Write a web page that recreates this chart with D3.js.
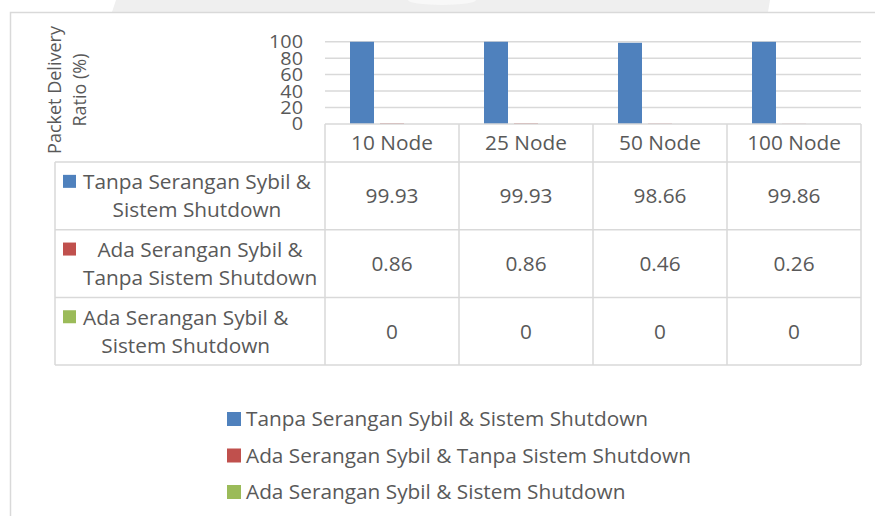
<!DOCTYPE html>
<html>
<head>
<meta charset="utf-8">
<script src="https://cdn.jsdelivr.net/npm/d3@7"></script>
<style>
  html, body { margin: 0; padding: 0; background: #fff; }
  svg { display: block; }
  text { font-family: "Open Sans", sans-serif; fill: #595959; }
</style>
</head>
<body>
<svg id="chart" width="875" height="516"></svg>
<script>
const categories = ["10 Node", "25 Node", "50 Node", "100 Node"];
const seriesNames = [
  "Tanpa Serangan Sybil & Sistem Shutdown",
  "Ada Serangan Sybil & Tanpa Sistem Shutdown",
  "Ada Serangan Sybil & Sistem Shutdown"
];
const seriesLines = [
  ["Tanpa Serangan Sybil &", "Sistem Shutdown"],
  ["Ada Serangan Sybil &", "Tanpa Sistem Shutdown"],
  ["Ada Serangan Sybil &", "Sistem Shutdown"]
];
const tanpaSerangan = [99.93, 99.93, 98.66, 99.86];
const adaSeranganTanpaShutdown = [0.86, 0.86, 0.46, 0.26];
const adaSeranganShutdown = [0, 0, 0, 0];
const seriesValues = [tanpaSerangan, adaSeranganTanpaShutdown, adaSeranganShutdown];
const seriesColors = ["#4f81bd", "#c0504d", "#9bbb59"];
const yTicks = [0, 20, 40, 60, 80, 100];
const yTitleLines = ["Packet Delivery", "Ratio (%)"];

const svg = d3.select("#chart");
const gridColor = "#d9d9d9";

// faint watermark band at top
svg.append("path")
  .attr("d", "M116,0 L770,0 L768,12 L112,12 Z")
  .attr("fill", "#efefef");
svg.append("ellipse").attr("cx", 442).attr("cy", 0).attr("rx", 34).attr("ry", 5).attr("fill", "#f8f8f8");

// chart border
svg.append("path")
  .attr("d", "M10.5,516 L10.5,12.5 L875,12.5")
  .attr("fill", "none").attr("stroke", gridColor).attr("stroke-width", 1.5);

// scales
const plotLeft = 325, plotRight = 861;
const x0 = d3.scaleBand().domain(categories).range([plotLeft, plotRight]).padding(0);
const x1 = d3.scaleBand().domain(d3.range(seriesValues.length)).range([0, 84]).paddingInner(0.2).paddingOuter(0);
const y = d3.scaleLinear().domain([0, 100]).range([124, 41.7]);

// gridlines
svg.append("g").selectAll("line").data(yTicks.filter(d => d > 0)).join("line")
  .attr("x1", plotLeft).attr("x2", plotRight)
  .attr("y1", d => y(d)).attr("y2", d => y(d))
  .attr("stroke", gridColor).attr("stroke-width", 1.5);

// y axis labels
const yAxis = d3.axisLeft(y).tickValues(yTicks).tickSize(0).tickPadding(0);
const yg = svg.append("g").attr("transform", "translate(303,0)").call(yAxis);
yg.select(".domain").remove();
yg.selectAll(".tick").each(function(d){
  d3.select(this).attr("transform", `translate(0,${y(d)}) scale(1.1,1)`);
});
yg.selectAll("text").attr("font-size", 18).attr("font-family", "'Open Sans', sans-serif").attr("fill", "#595959")
  .attr("x", 0).attr("dy", "0.36em");

// bars
const groups = svg.append("g").selectAll("g").data(categories).join("g")
  .attr("transform", d => `translate(${x0(d) + x0.bandwidth()/2 - 42},0)`);
groups.selectAll("rect").data((c, ci) => seriesValues.map((s, si) => ({si, v: s[ci]}))).join("rect")
  .attr("x", d => x1(d.si)).attr("width", x1.bandwidth())
  .attr("y", d => y(d.v)).attr("height", d => y(0) - y(d.v))
  .attr("fill", d => seriesColors[d.si]);

// y title
const yt = svg.append("g");
yTitleLines.forEach((t, i) => {
  yt.append("text")
    .attr("transform", `translate(${55 + i*25},90) rotate(-90)`)
    .attr("text-anchor", "middle").attr("dy", "0.35em")
    .attr("font-size", 18).text(t);
});

// data table
const tableLeft = 55, headerTop = 124, headerBottom = 162;
const rowH = 67.7;
const rowTops = seriesValues.map((_, i) => headerBottom + i * rowH);
const tableBottom = headerBottom + seriesValues.length * rowH;
const tg = svg.append("g").attr("stroke", gridColor).attr("stroke-width", 1.5).attr("fill", "none");
tg.append("line").attr("x1", plotLeft).attr("x2", plotRight).attr("y1", headerTop).attr("y2", headerTop);
[headerBottom, ...rowTops.slice(1), tableBottom].forEach(yy => {
  tg.append("line").attr("x1", tableLeft).attr("x2", plotRight).attr("y1", yy).attr("y2", yy);
});
tg.append("line").attr("x1", tableLeft).attr("x2", tableLeft).attr("y1", headerBottom).attr("y2", tableBottom);
categories.forEach(c => {
  tg.append("line").attr("x1", x0(c)).attr("x2", x0(c)).attr("y1", headerTop).attr("y2", tableBottom);
});
tg.append("line").attr("x1", plotRight).attr("x2", plotRight).attr("y1", headerTop).attr("y2", tableBottom);

const fs = 20.8;
svg.append("g").selectAll("text").data(categories).join("text")
  .attr("x", d => x0(d) + x0.bandwidth()/2).attr("y", (headerTop + headerBottom)/2)
  .attr("dy", "0.35em").attr("text-anchor", "middle").attr("font-size", fs).text(d => d);

seriesValues.forEach((s, si) => {
  svg.append("g").selectAll("text").data(s).join("text")
    .attr("x", (d, ci) => x0(categories[ci]) + x0.bandwidth()/2)
    .attr("y", rowTops[si] + rowH/2)
    .attr("dy", "0.35em").attr("text-anchor", "middle").attr("font-size", fs)
    .text(d => d);
});

seriesLines.forEach((lines, si) => {
  const cy = rowTops[si] + rowH/2;
  const g = svg.append("g");
  g.append("rect").attr("x", 63).attr("y", cy - 21).attr("width", 13).attr("height", 13)
    .attr("fill", seriesColors[si]);
  const texts = lines.map((t, li) => g.append("text")
    .attr("y", cy + (li - (lines.length - 1)/2) * 28).attr("dy", "0.35em")
    .attr("font-size", fs).attr("text-anchor", "middle").text(t));
  const maxW = d3.max(texts, t => t.node().getComputedTextLength());
  texts.forEach(t => t.attr("x", 83 + maxW/2));
});

const legendTop = 419, legendStep = 36.5;
const lg = svg.append("g");
seriesNames.forEach((name, i) => {
  const cy = legendTop + i * legendStep;
  lg.append("rect").attr("x", 227).attr("y", cy - 7).attr("width", 14).attr("height", 14).attr("fill", seriesColors[i]);
  lg.append("text").attr("x", 246).attr("y", cy).attr("dy", "0.35em").attr("font-size", fs).text(name);
});
</script>
</body>
</html>
